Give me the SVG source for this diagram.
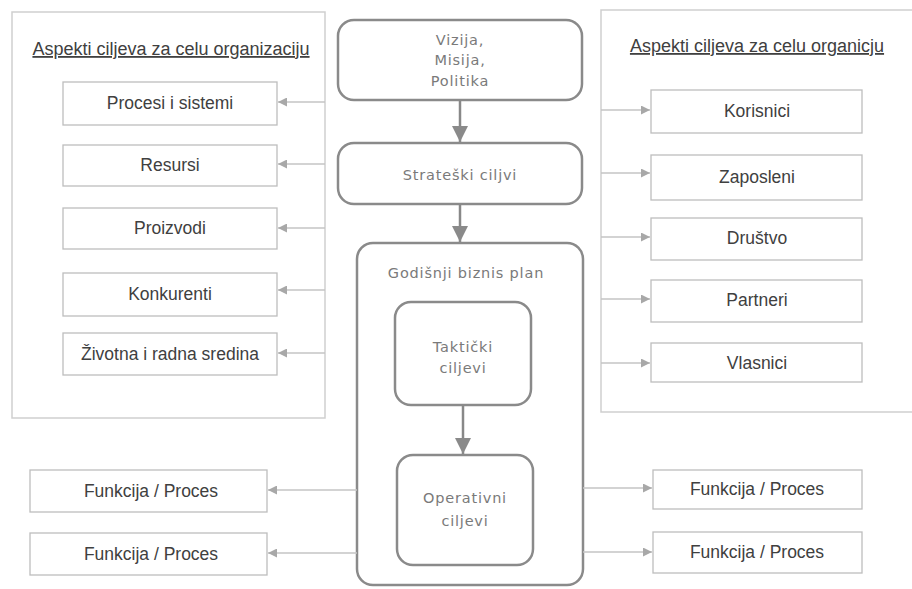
<svg xmlns="http://www.w3.org/2000/svg" width="912" height="589" viewBox="0 0 912 589">
<defs>
<style>
.outer{fill:#fff;stroke:#cfcfcf;stroke-width:1.5}
.box{fill:#fff;stroke:#bdbdbd;stroke-width:1.3}
.lbl{font-family:"Liberation Sans",Arial,sans-serif;font-size:17.5px;fill:#404040;text-anchor:middle}
.ttl{font-family:"Liberation Sans",Arial,sans-serif;font-size:18px;fill:#404040;text-anchor:middle;text-decoration:underline}
.core{fill:#fff;stroke:#8a8a8a;stroke-width:2.5}
.ctext{font-family:"DejaVu Sans",Verdana,sans-serif;font-size:14.5px;fill:#7a7a7a;text-anchor:middle;letter-spacing:0.8px}
.side{stroke:#c4c4c4;stroke-width:1.3;fill:none}
.main{stroke:#888;stroke-width:2.5;fill:none}
</style>
<marker id="sa" viewBox="0 0 10 10" refX="10" refY="5" markerWidth="12" markerHeight="9" markerUnits="userSpaceOnUse" orient="auto">
<path d="M0,0 L10,5 L0,10 Z" fill="#a8a8a8"/>
</marker>
<marker id="ma" viewBox="0 0 10 10" refX="10" refY="5" markerWidth="16" markerHeight="18" markerUnits="userSpaceOnUse" orient="auto">
<path d="M0,0 L10,5 L0,10 Z" fill="#8a8a8a"/>
</marker>
</defs>
<rect width="912" height="589" fill="#fff"/>

<g id="left-panel">
<rect class="outer" x="12" y="12" width="313" height="406"/>
<text class="ttl" x="171" y="55">Aspekti ciljeva za celu organizaciju</text>
</g>
<g id="right-panel">
<path class="outer" d="M913,10 L601,10 L601,412 L913,412"/>
<text class="ttl" x="757" y="52">Aspekti ciljeva za celu organicju</text>
</g>

<g id="procesi"><rect class="box" x="63" y="82" width="214" height="43"/><text class="lbl" x="170" y="109">Procesi i sistemi</text></g>
<g id="resursi"><rect class="box" x="63" y="145" width="214" height="41"/><text class="lbl" x="170" y="171">Resursi</text></g>
<g id="proizvodi"><rect class="box" x="63" y="208" width="214" height="41"/><text class="lbl" x="170" y="234">Proizvodi</text></g>
<g id="konkurenti"><rect class="box" x="63" y="273" width="214" height="43"/><text class="lbl" x="170" y="300">Konkurenti</text></g>
<g id="zivotna"><rect class="box" x="63" y="333" width="214" height="42"/><text class="lbl" x="170" y="360">Životna i radna sredina</text></g>

<g id="korisnici"><rect class="box" x="651" y="90" width="211" height="43"/><text class="lbl" x="757" y="117">Korisnici</text></g>
<g id="zaposleni"><rect class="box" x="651" y="155" width="211" height="45"/><text class="lbl" x="757" y="183">Zaposleni</text></g>
<g id="drustvo"><rect class="box" x="651" y="218" width="211" height="42"/><text class="lbl" x="757" y="244">Društvo</text></g>
<g id="partneri"><rect class="box" x="651" y="280" width="211" height="42"/><text class="lbl" x="757" y="306">Partneri</text></g>
<g id="vlasnici"><rect class="box" x="651" y="343" width="211" height="39"/><text class="lbl" x="757" y="369">Vlasnici</text></g>

<g id="fp-left-1"><rect class="box" x="30" y="470" width="237" height="42"/><text class="lbl" x="151" y="497">Funkcija / Proces</text></g>
<g id="fp-left-2"><rect class="box" x="30" y="533" width="237" height="42"/><text class="lbl" x="151" y="560">Funkcija / Proces</text></g>
<g id="fp-right-1"><rect class="box" x="653" y="470" width="209" height="39"/><text class="lbl" x="757" y="495">Funkcija / Proces</text></g>
<g id="fp-right-2"><rect class="box" x="653" y="532" width="209" height="41"/><text class="lbl" x="757" y="558">Funkcija / Proces</text></g>

<g id="vizija"><rect class="core" x="338" y="20" width="244" height="80" rx="16"/>
<text class="ctext" x="460" y="45">Vizija,</text><text class="ctext" x="460" y="65">Misija,</text><text class="ctext" x="460" y="86">Politika</text></g>
<g id="strateski"><rect class="core" x="338" y="143" width="244" height="61" rx="16"/>
<text class="ctext" x="460" y="180">Strateški ciljvi</text></g>
<g id="godisnji"><rect class="core" x="357" y="243" width="226" height="342" rx="16"/>
<text class="ctext" x="466" y="278">Godišnji biznis plan</text></g>
<g id="takticki"><rect class="core" x="395" y="302" width="136" height="103" rx="16"/>
<text class="ctext" x="463" y="352">Taktički</text><text class="ctext" x="463" y="373">ciljevi</text></g>
<g id="operativni"><rect class="core" x="397" y="455" width="136" height="110" rx="16"/>
<text class="ctext" x="465" y="503">Operativni</text><text class="ctext" x="465" y="526">ciljevi</text></g>

<g id="connectors">
<line class="main" x1="460" y1="100" x2="460" y2="142" marker-end="url(#ma)"/>
<line class="main" x1="460" y1="204" x2="460" y2="242" marker-end="url(#ma)"/>
<line class="main" x1="463" y1="405" x2="463" y2="454" marker-end="url(#ma)"/>
<line class="side" x1="325" y1="102" x2="278" y2="102" marker-end="url(#sa)"/>
<line class="side" x1="325" y1="164" x2="278" y2="164" marker-end="url(#sa)"/>
<line class="side" x1="325" y1="228" x2="278" y2="228" marker-end="url(#sa)"/>
<line class="side" x1="325" y1="290" x2="278" y2="290" marker-end="url(#sa)"/>
<line class="side" x1="325" y1="353" x2="278" y2="353" marker-end="url(#sa)"/>
<line class="side" x1="601" y1="110" x2="650" y2="110" marker-end="url(#sa)"/>
<line class="side" x1="601" y1="173" x2="650" y2="173" marker-end="url(#sa)"/>
<line class="side" x1="601" y1="237" x2="650" y2="237" marker-end="url(#sa)"/>
<line class="side" x1="601" y1="299" x2="650" y2="299" marker-end="url(#sa)"/>
<line class="side" x1="601" y1="363" x2="650" y2="363" marker-end="url(#sa)"/>
<line class="side" x1="357" y1="490" x2="268" y2="490" marker-end="url(#sa)"/>
<line class="side" x1="357" y1="553" x2="268" y2="553" marker-end="url(#sa)"/>
<line class="side" x1="583" y1="488" x2="652" y2="488" marker-end="url(#sa)"/>
<line class="side" x1="583" y1="552" x2="652" y2="552" marker-end="url(#sa)"/>
</g>
</svg>
